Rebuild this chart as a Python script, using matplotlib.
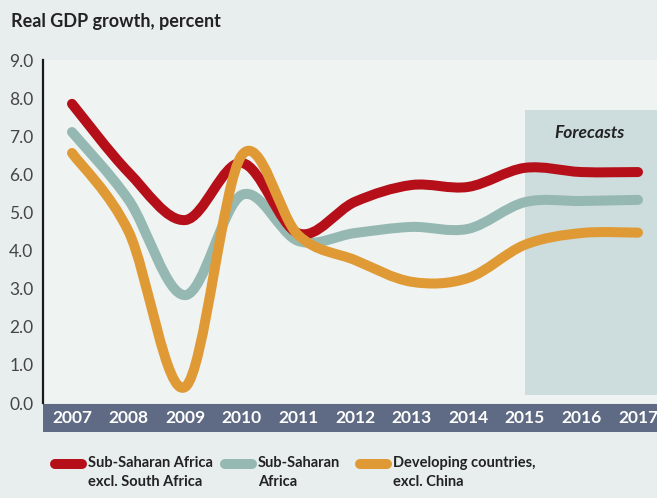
import matplotlib
matplotlib.use("Agg")
import matplotlib.pyplot as plt
import numpy as np
from matplotlib.path import Path
from matplotlib.patches import PathPatch, Rectangle
from matplotlib.lines import Line2D

years = [2007, 2008, 2009, 2010, 2011, 2012, 2013, 2014, 2015, 2016, 2017]
ssa_ex_sa = [7.85, 6.05, 4.8, 6.3, 4.45, 5.28, 5.72, 5.67, 6.17, 6.06, 6.06]
ssa = [7.11, 5.33, 2.83, 5.46, 4.25, 4.46, 4.62, 4.57, 5.27, 5.3, 5.33]
dev_ex_china = [6.56, 4.5, 0.42, 6.5, 4.4, 3.75, 3.18, 3.28, 4.15, 4.46, 4.47]
y_ticks = [0, 1, 2, 3, 4, 5, 6, 7, 8, 9]
labels = ["Sub-Saharan Africa\nexcl. South Africa", "Sub-Saharan\nAfrica",
          "Developing countries,\nexcl. China"]
colors = ["#b5101a", "#95b9b2", "#e09a35"]

plt.rcParams['font.family'] = ["Lato", "DejaVu Sans"]


def smooth_path(x, y):
    # catmull-rom through the yearly points, as bezier segments
    x = np.asarray(x, float)
    y = np.asarray(y, float)
    pts = np.column_stack([x, y])
    verts = [pts[0]]
    codes = [Path.MOVETO]
    n = len(pts)
    for i in range(n - 1):
        p0 = pts[i - 1] if i > 0 else pts[i]
        p1 = pts[i]
        p2 = pts[i + 1]
        p3 = pts[i + 2] if i + 2 < n else pts[i + 1]
        c1 = p1 + (p2 - p0) / 6.0
        c2 = p2 - (p3 - p1) / 6.0
        verts += [c1, c2, p2]
        codes += [Path.CURVE4] * 3
    return Path(verts, codes)


fig = plt.figure(figsize=(6.57, 4.98), dpi=100, facecolor="#e8eeed")
ax = fig.add_axes([43 / 657, 95 / 498, 1 - 43 / 657, 343 / 498])
ax.set_facecolor("#eff4f3")

ax.set_xlim(2007 - 29 / 56.6, 2007 + 585 / 56.6)
ax.set_ylim(0, 9)

# forecast box
ax.add_patch(Rectangle((2015, 0.21), 3, 7.48, facecolor="#cddcdd",
                       edgecolor="none", zorder=1))
ax.text(2016.15, 7.09, "Forecasts", ha="center", va="center", fontsize=12.5,
        fontweight="bold", style="italic", color="#222222", zorder=2)

series = [ssa, ssa_ex_sa, dev_ex_china]
scol = [colors[1], colors[0], colors[2]]
for k, (vals, c) in enumerate(zip(series, scol)):
    p = PathPatch(smooth_path(years, vals), facecolor="none", edgecolor=c,
                  lw=7.2, capstyle="round", joinstyle="round", zorder=3 + k)
    ax.add_patch(p)

for s in ["top", "right", "bottom"]:
    ax.spines[s].set_visible(False)
ax.spines["left"].set_linewidth(1.6)
ax.spines["left"].set_color("#1a1a1a")

ax.set_yticks(y_ticks)
ax.set_yticklabels(["%.1f" % v for v in y_ticks])
ax.tick_params(axis="y", length=0, pad=7, labelsize=12.5, labelcolor="#454545")

ax.set_xticks(years)
ax.set_xticklabels([str(y) for y in years])
ax.tick_params(axis="x", length=0, pad=10.8, labelsize=12.5, labelcolor="white")
for lab in ax.get_xticklabels():
    lab.set_fontweight("bold")
    lab.set_va("center")

ax.add_patch(Rectangle((0, -29 / 343), 1, 28 / 343, transform=ax.transAxes,
                       facecolor="#5f6a84", edgecolor="none", clip_on=False,
                       zorder=0))

fig.text(11 / 657, 1 - 22 / 498, "Real GDP growth, percent", fontsize=13,
         fontweight="bold", color="#222222", va="center", ha="left")

# legend
leg_x = [55, 225, 360]
for lx, lab, c in zip(leg_x, labels, colors):
    fig.add_artist(Line2D([lx / 657, (lx + 27) / 657], [1 - 464 / 498] * 2,
                          color=c, lw=7.2, solid_capstyle="round"))
    fig.text((lx + 33) / 657, 1 - 456 / 498, lab, fontsize=10.5,
             fontweight="bold", color="#222222", va="top", ha="left",
             linespacing=1.5)

fig.savefig("out.png", dpi=100, facecolor=fig.get_facecolor())
